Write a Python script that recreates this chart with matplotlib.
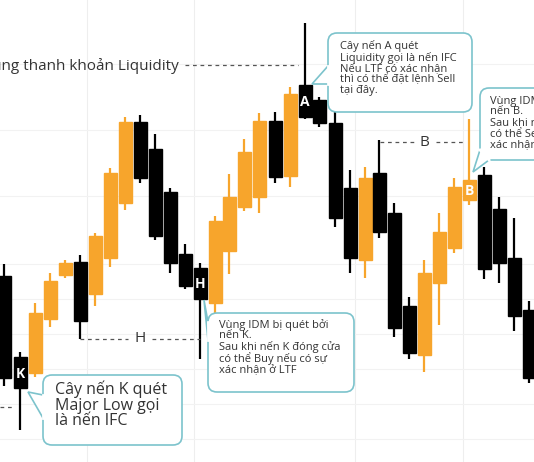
import matplotlib
matplotlib.use("Agg")
import matplotlib.pyplot as plt
from matplotlib.patches import FancyBboxPatch, Polygon, Rectangle

plt.rcParams['font.family'] = ['Open Sans', 'DejaVu Sans']

# candle levels (screen units, larger = lower)
xs     = [4, 20, 35, 50, 65, 80, 95, 110, 125, 140, 155, 170, 185, 200, 215, 229, 244, 259,
          275, 290, 305, 319, 335, 350, 365, 379, 394, 409, 424, 439, 454, 469, 484, 499, 514, 529]
highs  = [264, 352, 303, 273, 260, 255, 233, 168, 117, 115, 134, 188, 244, 263, 216, 174, 139, 113,
          112, 87, 23, 97, 82, 170, 167, 140, 203, 297, 260, 213, 178, 119, 167, 197, 218, 301]
opens  = [276, 357, 373, 319, 275, 262, 294, 258, 203, 122, 149, 192, 254, 268, 303, 251, 207, 197,
          121, 176, 85, 100, 123, 188, 260, 173, 213, 306, 355, 283, 248, 200, 175, 209, 258, 310]
closes = [378, 388, 313, 281, 263, 321, 236, 173, 122, 178, 236, 263, 286, 299, 221, 197, 152, 121,
          177, 94, 117, 123, 218, 258, 178, 232, 328, 353, 273, 232, 187, 180, 269, 263, 316, 378]
lows   = [386, 430, 377, 327, 278, 339, 306, 267, 210, 183, 240, 273, 289, 359, 313, 274, 211, 213,
          183, 187, 119, 127, 227, 273, 278, 238, 337, 359, 372, 325, 253, 205, 279, 283, 331, 383]
tags = {1: "K", 13: "H", 20: "A", 31: "B"}

ORANGE = "#F7A52C"
TEAL = "#7cc3cc"

fig = plt.figure(figsize=(5.34, 4.62), dpi=100)
ax = fig.add_axes([0, 0, 1, 1])
ax.set_xlim(0, 534); ax.set_ylim(462, 0)
ax.axis("off")

for gx in [87, 194, 355, 463]:
    ax.axvline(gx, color="#eeeeee", lw=0.8, zorder=0)
for gy in [64, 130, 196, 264, 299, 334, 369, 404, 439]:
    ax.axhline(gy, color="#f2f2f2", lw=0.8, zorder=0)

bw = 13
for i, x in enumerate(xs):
    o, c, h, l = opens[i], closes[i], highs[i], lows[i]
    col = "black" if c > o else ORANGE
    ax.plot([x, x], [h, l], color=col, lw=1.6, zorder=2, solid_capstyle="butt")
    top, bot = min(o, c), max(o, c)
    ax.add_patch(Rectangle((x - bw / 2, top), bw, bot - top, color=col, zorder=3))
    if i in tags:
        ax.text(x, (top + bot) / 2 + 1, tags[i], color="white", ha="center", va="center",
                fontsize=10, fontweight="bold", zorder=4)

dash = dict(color="#555555", lw=0.9, ls=(0, (3, 3)))
ax.plot([185, 298], [65, 65], **dash)
ax.text(179, 66, "Vùng thanh khoản Liquidity", ha="right", va="center", fontsize=11, color="#333333")
ax.plot([380, 414], [142, 142], **dash); ax.plot([436, 466], [142, 142], **dash)
ax.text(424, 142, "B", ha="center", va="center", fontsize=11, color="#333333")
ax.plot([80, 128], [339, 339], **dash); ax.plot([152, 200], [339, 339], **dash)
ax.text(140, 339, "H", ha="center", va="center", fontsize=11, color="#333333")
ax.plot([0, 14], [407, 407], **dash)


def callout(x0, y0, x1, y1, tip, base, text, fs, tx, ty):
    ax.add_patch(FancyBboxPatch((x0, y0), x1 - x0, y1 - y0, boxstyle="round,pad=0,rounding_size=9",
                                fc="white", ec=TEAL, lw=1.2, zorder=5))
    ax.add_patch(Polygon([base[0], tip, base[1]], closed=False, fc="white", ec=TEAL, lw=1.2, zorder=6))
    ax.plot([base[0][0], base[1][0]], [base[0][1], base[1][1]], color="white", lw=2, zorder=7)
    ax.text(tx, ty, text, fontsize=fs, color="#333333", va="top", ha="left", linespacing=0.95, zorder=8)


callout(328, 33, 472, 112, (312, 84), [(328, 66), (328, 84)],
        "Cây nến A quét\nLiquidity gọi là nến IFC\nNếu LTF có xác nhận\nthì có thể đặt lệnh Sell\ntại đây.",
        8, 340, 40)
callout(480, 88, 545, 160, (473, 172), [(480, 150), (489, 160)],
        "Vùng IDM bị quét bởi\nnến B.\nSau khi nến B đóng cửa\ncó thể Sell nếu có sự\nxác nhận ở LTF",
        8, 490, 95)
callout(208, 313, 354, 392, (204, 300), [(208, 322), (208, 340)],
        "Vùng IDM bị quét bởi\nnến K.\nSau khi nến K đóng cửa\ncó thể Buy nếu có sự\nxác nhận ở LTF",
        8, 219, 319)
callout(43, 375, 182, 445, (28, 392), [(43, 395), (43, 418)],
        "Cây nến K quét\nMajor Low gọi\nlà nến IFC", 11.5, 55, 381)

fig.savefig("out.png", dpi=100)
